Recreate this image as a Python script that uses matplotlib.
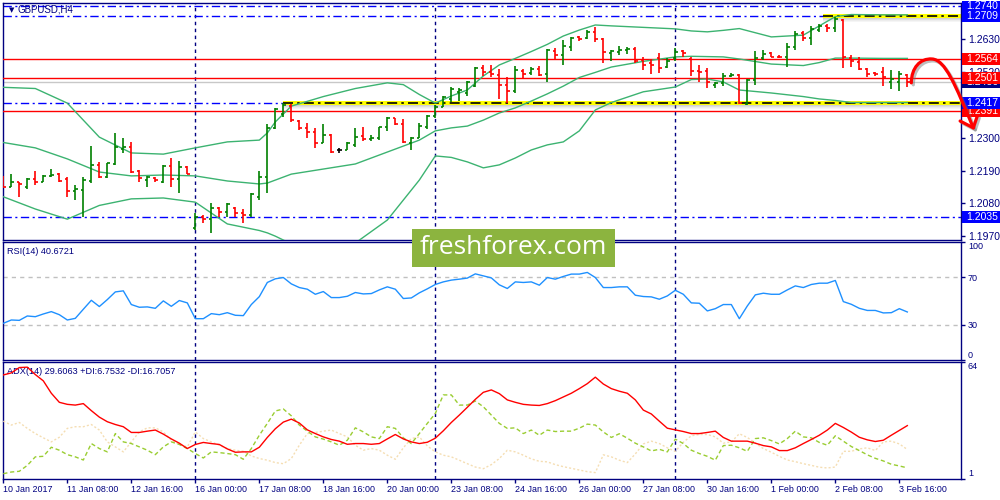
import numpy as np
import matplotlib
matplotlib.use('Agg')
import matplotlib.pyplot as plt
import matplotlib.transforms as mtransforms
from matplotlib.patches import Rectangle, PathPatch
from matplotlib.path import Path

plt.rcParams['font.family'] = ['Liberation Sans', 'DejaVu Sans']

# GBPUSD H4 bars, 10 Jan 2017 00:00 .. 3 Feb 2017 20:00
opens = [1.2170, 1.2135, 1.2152, 1.2136, 1.2161, 1.2153, 1.2172, 1.2178, 1.2161, 1.2122,
         1.2125, 1.2156, 1.2208, 1.2169, 1.2212, 1.2261, 1.2270, 1.2188, 1.2158, 1.2165,
         1.2153, 1.2205, 1.2161, 1.2203, 1.1997, 1.2035, 1.2026, 1.2063, 1.2052, 1.2063,
         1.2049, 1.2041, 1.2102, 1.2168, 1.2332, 1.2379, 1.2407, 1.2357, 1.2332, 1.2320,
         1.2281, 1.2309, 1.2259, 1.2259, 1.2275, 1.2306, 1.2295, 1.2298, 1.2335, 1.2365,
         1.2345, 1.2281, 1.2300, 1.2337, 1.2373, 1.2404, 1.2429, 1.2454, 1.2449, 1.2473,
         1.2533, 1.2521, 1.2510, 1.2477, 1.2458, 1.2525, 1.2518, 1.2529, 1.2514, 1.2592,
         1.2577, 1.2605, 1.2637, 1.2633, 1.2656, 1.2630, 1.2585, 1.2588, 1.2594, 1.2597,
         1.2561, 1.2552, 1.2567, 1.2538, 1.2566, 1.2592, 1.2563, 1.2525, 1.2525, 1.2477,
         1.2482, 1.2507, 1.2510, 1.2413, 1.2494, 1.2568, 1.2584, 1.2572, 1.2569, 1.2603,
         1.2650, 1.2633, 1.2661, 1.2674, 1.2669, 1.2696, 1.2568, 1.2555, 1.2529, 1.2518,
         1.2521, 1.2488, 1.2487, 1.2510]
highs = [1.2172, 1.2177, 1.2153, 1.2166, 1.2189, 1.2176, 1.2194, 1.2181, 1.2169, 1.2142,
         1.2169, 1.2272, 1.2220, 1.2216, 1.2317, 1.2300, 1.2287, 1.2192, 1.2172, 1.2167,
         1.2209, 1.2231, 1.2222, 1.2205, 1.2048, 1.2041, 1.2080, 1.2069, 1.2082, 1.2067,
         1.2060, 1.2115, 1.2188, 1.2346, 1.2399, 1.2415, 1.2412, 1.2359, 1.2350, 1.2332,
         1.2345, 1.2312, 1.2267, 1.2287, 1.2332, 1.2337, 1.2309, 1.2337, 1.2368, 1.2367,
         1.2362, 1.2303, 1.2348, 1.2376, 1.2410, 1.2440, 1.2469, 1.2466, 1.2491, 1.2536,
         1.2544, 1.2544, 1.2529, 1.2503, 1.2540, 1.2529, 1.2536, 1.2540, 1.2597, 1.2600,
         1.2628, 1.2637, 1.2641, 1.2661, 1.2670, 1.2633, 1.2594, 1.2608, 1.2605, 1.2603,
         1.2572, 1.2563, 1.2583, 1.2566, 1.2600, 1.2594, 1.2570, 1.2544, 1.2533, 1.2488,
         1.2518, 1.2518, 1.2514, 1.2497, 1.2591, 1.2594, 1.2589, 1.2576, 1.2618, 1.2657,
         1.2657, 1.2675, 1.2682, 1.2680, 1.2706, 1.2699, 1.2577, 1.2572, 1.2533, 1.2521,
         1.2538, 1.2526, 1.2524, 1.2513]
lows = [1.2130, 1.2134, 1.2102, 1.2128, 1.2142, 1.2151, 1.2167, 1.2151, 1.2102, 1.2091,
        1.2033, 1.2149, 1.2164, 1.2164, 1.2209, 1.2248, 1.2183, 1.2153, 1.2136, 1.2153,
        1.2147, 1.2136, 1.2116, 1.2177, 1.1991, 1.2013, 1.1982, 1.2033, 1.2035, 1.2035,
        1.2015, 1.2035, 1.2091, 1.2115, 1.2328, 1.2371, 1.2354, 1.2326, 1.2298, 1.2265,
        1.2281, 1.2250, 1.2250, 1.2259, 1.2270, 1.2289, 1.2289, 1.2292, 1.2324, 1.2343,
        1.2281, 1.2259, 1.2298, 1.2328, 1.2366, 1.2404, 1.2421, 1.2424, 1.2440, 1.2469,
        1.2507, 1.2503, 1.2429, 1.2415, 1.2451, 1.2496, 1.2510, 1.2507, 1.2488, 1.2563,
        1.2544, 1.2592, 1.2625, 1.2630, 1.2622, 1.2552, 1.2558, 1.2577, 1.2581, 1.2552,
        1.2527, 1.2514, 1.2518, 1.2533, 1.2558, 1.2572, 1.2507, 1.2488, 1.2466, 1.2466,
        1.2473, 1.2503, 1.2412, 1.2410, 1.2477, 1.2561, 1.2569, 1.2566, 1.2538, 1.2593,
        1.2623, 1.2612, 1.2653, 1.2656, 1.2656, 1.2533, 1.2538, 1.2527, 1.2505, 1.2508,
        1.2475, 1.2463, 1.2456, 1.2470]
closes = [1.2135, 1.2153, 1.2144, 1.2161, 1.2153, 1.2172, 1.2176, 1.2156, 1.2122, 1.2127,
          1.2158, 1.2209, 1.2169, 1.2214, 1.2268, 1.2270, 1.2186, 1.2164, 1.2167, 1.2158,
          1.2205, 1.2161, 1.2201, 1.2178, 1.2034, 1.2026, 1.2063, 1.2052, 1.2078, 1.2049,
          1.2041, 1.2111, 1.2168, 1.2333, 1.2395, 1.2410, 1.2359, 1.2332, 1.2320, 1.2281,
          1.2309, 1.2253, 1.2259, 1.2283, 1.2304, 1.2295, 1.2298, 1.2335, 1.2365, 1.2345,
          1.2287, 1.2298, 1.2339, 1.2373, 1.2402, 1.2436, 1.2462, 1.2460, 1.2488, 1.2533,
          1.2521, 1.2514, 1.2477, 1.2458, 1.2527, 1.2514, 1.2529, 1.2510, 1.2594, 1.2577,
          1.2608, 1.2633, 1.2630, 1.2656, 1.2630, 1.2588, 1.2592, 1.2594, 1.2599, 1.2558,
          1.2544, 1.2544, 1.2534, 1.2558, 1.2588, 1.2583, 1.2525, 1.2521, 1.2488, 1.2482,
          1.2507, 1.2511, 1.2415, 1.2494, 1.2568, 1.2581, 1.2572, 1.2569, 1.2603, 1.2647,
          1.2633, 1.2666, 1.2675, 1.2669, 1.2698, 1.2571, 1.2557, 1.2530, 1.2513, 1.2513,
          1.2502, 1.2496, 1.2512, 1.2486]

# Bollinger bands read at some bars
bb_idx = [0, 4, 8, 12, 16, 20, 24, 28, 32, 33, 34, 36, 40, 44, 48, 50, 52, 54, 56, 58,
          60, 62, 64, 66, 68, 70, 72, 74, 76, 80, 84, 86, 88, 90, 92, 96, 100, 102, 104, 106,
          110, 113]
bb_upper = [1.2469, 1.2465, 1.2416, 1.2302, 1.2249, 1.2245, 1.2266, 1.2286, 1.2292, 1.2316,
            1.2353, 1.2406, 1.2438, 1.2465, 1.2484, 1.2478, 1.2445, 1.2416, 1.2440, 1.2460,
            1.2507, 1.2544, 1.2566, 1.2589, 1.2613, 1.2641, 1.2661, 1.2678, 1.2675, 1.2670,
            1.2665, 1.2658, 1.2655, 1.2660, 1.2666, 1.2638, 1.2644, 1.2675, 1.2706, 1.2713,
            1.2712, 1.2712]
bb_mid = [1.2284, 1.2266, 1.2229, 1.2185, 1.2172, 1.2175, 1.2172, 1.2155, 1.2145, 1.2148,
          1.2158, 1.2178, 1.2195, 1.2212, 1.2252, 1.2272, 1.2292, 1.2323, 1.2333, 1.2339,
          1.2359, 1.2383, 1.2400, 1.2423, 1.2447, 1.2473, 1.2502, 1.2519, 1.2537, 1.2556,
          1.2571, 1.2573, 1.2572, 1.2571, 1.2564, 1.2547, 1.2542, 1.2552, 1.2567, 1.2567,
          1.2566, 1.2566]
bb_lower = [1.2102, 1.2061, 1.2027, 1.2073, 1.2095, 1.2098, 1.2084, 1.2011, 1.1989, 1.1981,
            1.1970, 1.1944, 1.1927, 1.1947, 1.2024, 1.2091, 1.2158, 1.2239, 1.2234, 1.2219,
            1.2199, 1.2209, 1.2232, 1.2259, 1.2276, 1.2286, 1.2323, 1.2393, 1.2418, 1.2454,
            1.2470, 1.2495, 1.2497, 1.2487, 1.2460, 1.2450, 1.2438, 1.2430, 1.2425, 1.2418,
            1.2418, 1.2418]

rsi = [31.1, 33.9, 33.6, 37.3, 36.7, 39.0, 41.0, 38.4, 33.9, 35.3,
       43.0, 50.6, 45.3, 51.2, 57.7, 58.6, 47.0, 44.7, 45.0, 43.8,
       50.1, 45.5, 50.4, 48.4, 35.0, 35.0, 39.3, 38.4, 40.1, 37.9,
       37.6, 47.0, 53.7, 65.7, 68.8, 69.9, 64.5, 61.4, 60.0, 55.7,
       58.0, 52.9, 52.9, 54.0, 57.2, 56.0, 56.3, 59.4, 62.0, 60.0,
       52.1, 52.6, 56.9, 60.3, 64.0, 66.2, 67.7, 68.5, 69.4, 73.0,
       71.3, 69.6, 63.7, 60.6, 66.2, 65.7, 66.2, 63.4, 69.9, 68.5,
       70.8, 72.8, 72.8, 74.2, 69.9, 61.4, 61.4, 62.0, 62.0, 54.9,
       53.8, 53.5, 51.5, 54.3, 59.1, 55.7, 48.4, 48.1, 41.6, 43.5,
       47.0, 47.0, 35.0, 45.8, 55.2, 56.6, 55.7, 55.7, 59.4, 62.8,
       61.4, 64.0, 65.1, 65.1, 67.4, 49.5, 47.2, 43.8, 42.0, 42.0,
       39.9, 40.1, 43.5, 40.7]

adx = [57.0, 58.1, 61.0, 61.2, 57.2, 53.8, 47.1, 42.2, 41.1, 40.7,
       41.5, 37.7, 34.2, 31.7, 30.2, 29.0, 25.9, 25.9, 26.6, 27.2,
       25.0, 22.4, 20.1, 17.2, 19.4, 20.5, 19.9, 19.4, 17.0, 15.2,
       15.4, 15.4, 17.9, 23.2, 27.9, 31.5, 33.1, 31.0, 27.3, 25.3,
       23.5, 22.1, 21.2, 19.5, 19.9, 19.9, 19.5, 19.9, 22.4, 24.8,
       22.4, 20.8, 19.9, 20.6, 22.8, 26.8, 31.3, 35.3, 39.5, 43.8,
       47.6, 48.9, 46.9, 43.5, 42.2, 41.1, 40.7, 40.5, 41.5, 43.1,
       45.1, 47.1, 49.6, 52.3, 55.8, 52.1, 49.6, 48.2, 47.1, 43.5,
       38.0, 35.9, 32.0, 28.2, 27.3, 26.4, 25.3, 25.3, 25.9, 26.6,
       23.2, 21.2, 21.2, 21.2, 20.1, 18.8, 18.1, 16.1, 16.1, 17.6,
       19.9, 22.1, 24.4, 27.2, 30.8, 28.6, 26.1, 23.3, 21.9, 21.0,
       21.7, 24.4, 27.0, 29.6]
plus_di = [3.6, 4.5, 4.9, 8.1, 12.7, 13.0, 17.9, 16.3, 13.9, 12.7,
           11.0, 19.9, 17.2, 15.4, 25.3, 20.8, 19.9, 18.1, 16.3, 13.9,
           18.1, 20.8, 19.4, 17.2, 14.5, 12.1, 15.4, 15.0, 14.5, 13.9,
           11.4, 17.2, 24.4, 30.8, 37.5, 38.6, 34.9, 29.9, 26.6, 23.5,
           22.3, 20.8, 19.0, 21.7, 28.4, 26.2, 23.5, 22.6, 29.0, 28.1,
           23.0, 19.9, 25.3, 30.8, 36.2, 46.2, 46.2, 40.7, 40.7, 42.9,
           39.8, 35.3, 30.8, 28.1, 28.4, 25.3, 27.2, 24.4, 27.2, 26.4,
           26.6, 26.6, 28.2, 30.4, 29.9, 26.2, 23.2, 25.2, 22.8, 20.1,
           18.1, 15.9, 16.8, 15.4, 22.3, 19.9, 16.3, 14.5, 13.0, 10.9,
           18.8, 19.0, 17.6, 15.7, 22.6, 23.0, 21.5, 19.7, 22.6, 26.6,
           23.5, 23.0, 20.5, 19.0, 24.1, 21.2, 18.3, 16.1, 13.8, 11.9,
           10.5, 8.7, 7.8, 6.75]
minus_di = [32.0, 29.9, 31.3, 28.1, 25.3, 23.0, 20.8, 23.3, 28.1, 29.0,
            29.0, 30.2, 27.2, 20.8, 18.1, 15.4, 20.8, 26.2, 28.4, 28.4,
            26.2, 21.7, 19.4, 18.1, 26.2, 22.6, 20.8, 19.0, 17.2, 16.3,
            15.7, 13.2, 11.8, 10.9, 9.6, 9.0, 11.8, 19.0, 25.3, 25.9,
            26.6, 27.2, 25.3, 23.5, 19.0, 16.3, 17.2, 16.3, 13.6, 11.4,
            17.6, 22.6, 23.5, 18.6, 15.4, 13.6, 12.7, 10.9, 9.0, 7.2,
            6.3, 8.5, 11.8, 16.3, 15.4, 13.6, 11.6, 10.3, 10.0, 8.5,
            7.4, 6.5, 5.6, 4.7, 4.2, 13.8, 12.7, 10.9, 9.6, 14.3,
            19.7, 21.2, 19.9, 17.6, 15.7, 20.6, 24.1, 24.8, 24.8, 23.5,
            20.1, 20.8, 25.2, 23.2, 20.1, 17.2, 15.2, 13.0, 11.0, 10.1,
            9.0, 8.1, 7.1, 6.7, 7.2, 15.7, 15.7, 17.0, 17.6, 16.1,
            20.8, 21.2, 19.7, 16.7]

time_labels = ['10 Jan 2017', '11 Jan 08:00', '12 Jan 16:00', '16 Jan 00:00', '17 Jan 08:00',
               '18 Jan 16:00', '20 Jan 00:00', '23 Jan 08:00', '24 Jan 16:00', '26 Jan 00:00',
               '27 Jan 08:00', '30 Jan 16:00', '1 Feb 00:00', '2 Feb 08:00', '3 Feb 16:00']
week_starts = [24, 54, 84]

blue_levels = [1.2740, 1.2709, 1.2417, 1.2035]
red_levels = [1.2564, 1.2501, 1.2391]
bid = 1.2486
zones = [(35, 1.2417), (102.5, 1.2709)]  # (start bar, level)
scale_ticks = [1.2630, 1.2520, 1.2410, 1.2300, 1.2190, 1.2080, 1.1970]

NAVY = '#000080'
BLUE = '#0000FF'
RED = '#FF0000'

fig = plt.figure(figsize=(10, 5), dpi=100)


def rect(x0, y0, x1, y1):
    return [x0 / 1000, 1 - y1 / 500, (x1 - x0) / 1000, (y1 - y0) / 500]


ax = fig.add_axes(rect(3, 3, 961, 240))
ax_rsi = fig.add_axes(rect(3, 242, 961, 360), sharex=ax)
ax_adx = fig.add_axes(rect(3, 362, 961, 478.5), sharex=ax)

x = np.arange(len(closes))
xmax = 119.71

for a in (ax, ax_rsi, ax_adx):
    for sp in a.spines.values():
        sp.set_color(NAVY)
        sp.set_linewidth(1)
    a.yaxis.tick_right()
    a.tick_params(axis='y', colors=NAVY, labelcolor=NAVY, length=3, width=1, pad=2)
    for s in week_starts:
        a.axvline(s, color=NAVY, lw=1, ls=(0, (2.5, 2.5)), zorder=2)

ax.set_xlim(-0.04, xmax)

# ---- main price panel
ax.set_ylim(1.19571, 1.27517)
cols = ['#008000' if c > o else RED if c < o else 'black' for o, c in zip(opens, closes)]
ax.vlines(x, lows, highs, colors=cols, lw=1.2, zorder=5)
ax.hlines(opens, x - 0.35, x, colors=cols, lw=1.2, zorder=5)
ax.hlines(closes, x, x + 0.35, colors=cols, lw=1.2, zorder=5)

for band in (bb_upper, bb_mid, bb_lower):
    ax.plot(bb_idx, band, color='#3CB371', lw=1, zorder=4)

ax.axhline(bid, color='#C8C8C8', lw=1, zorder=1)
for lv in blue_levels:
    ax.axhline(lv, color=BLUE, lw=1, ls=(0, (6, 2.5, 1.5, 2.5)), zorder=2)
for lv in red_levels:
    ax.axhline(lv, color=RED, lw=1, zorder=3)
for start, lv in zones:
    for k, al in enumerate([0.35, 0.25, 0.15, 0.08]):
        ax.add_patch(Rectangle((start, lv - 0.0008 - 0.00034 * (k + 1)), xmax - start, 0.00034,
                               fc='#808080', ec='none', alpha=al, zorder=2.1))
    ax.add_patch(Rectangle((start, lv - 0.0006), xmax - start, 0.0013, fc='#FFFF00',
                           ec='none', zorder=2.2))
    ax.hlines(lv, start, xmax, color='black', lw=1.2, ls=(0, (6, 2.5, 1.5, 2.5)), zorder=2.3)

ax.set_yticks(scale_ticks)
ax.set_yticklabels([f'{t:.4f}' for t in scale_ticks])
ax.tick_params(axis='y', labelsize=7.5)
ax.tick_params(axis='x', bottom=False, labelbottom=False)

trans = mtransforms.blended_transform_factory(ax.transAxes, ax.transData)
price_boxes = [(bid, NAVY), (1.2564, RED), (1.2501, RED), (1.2391, RED),
               (1.2740, BLUE), (1.2709, BLUE), (1.2417, BLUE), (1.2035, BLUE)]
for k, (v, c) in enumerate(price_boxes):
    z = 6 + k * 0.1
    ax.add_patch(Rectangle((1.0011, v - 0.0020), 0.045, 0.0040, transform=trans, fc=c,
                           ec='none', clip_on=False, zorder=z))
    ax.text(1.0057, v, f'{v:.4f}', transform=trans, color='white', fontsize=7.5,
            va='center', ha='left', clip_on=False, zorder=z + 0.05)

fig.text(0.009, 1 - 10 / 500, '\u25BC', family='DejaVu Sans', fontsize=5, color=NAVY,
         va='center', ha='left')
fig.text(0.018, 1 - 10 / 500, 'GBPUSD,H4', fontsize=7, color=NAVY, va='center', ha='left')

# forecast arrow drawn on the chart
last = len(closes) - 1
verts = [(last + 0.5, closes[-1] - 0.0002), (last + 0.5, 1.2534), (last + 1.6, 1.2567),
         (last + 3.1, red_levels[0]), (last + 4.75, 1.2561), (last + 6.0, 1.2477),
         (last + 8.25, 1.2333)]
codes = [Path.MOVETO, Path.CURVE4, Path.CURVE4, Path.CURVE4, Path.CURVE4, Path.CURVE4, Path.CURVE4]
head = [(last + 6.6, 1.2356), (last + 8.25, 1.2333), (last + 8.75, 1.2373)]
head_codes = [Path.MOVETO, Path.LINETO, Path.LINETO]
shadow = mtransforms.offset_copy(ax.transData, fig=fig, x=2, y=-2, units='dots')
for tr, col, al in ((shadow, '#707070', 0.45), (ax.transData, RED, 1.0)):
    ax.add_patch(PathPatch(Path(verts, codes), fill=False, ec=col, lw=2.3, alpha=al,
                           transform=tr, clip_on=False, zorder=10, capstyle='round'))
    ax.add_patch(PathPatch(Path(head, head_codes), fill=False, ec=col, lw=2.3, alpha=al,
                           transform=tr, clip_on=False, zorder=10, capstyle='round',
                           joinstyle='round'))

# ---- RSI panel
ax_rsi.set_ylim(0, 100)
ax_rsi.plot(x, rsi, color='#1E90FF', lw=1, zorder=4)
for lv in (70, 30):
    ax_rsi.axhline(lv, color='#C0C0C0', lw=1, ls=(0, (3, 3)), zorder=1)
ax_rsi.set_yticks([0, 30, 70, 100])
ax_rsi.set_yticklabels(['0', '30', '70', '100'])
ax_rsi.tick_params(axis='y', labelsize=6.5)
ax_rsi.get_yticklabels()[0].set_va('bottom')
ax_rsi.get_yticklabels()[-1].set_va('top')
ax_rsi.tick_params(axis='x', bottom=False, labelbottom=False)
ax_rsi.text(0.0045, 0.918, f'RSI(14) {40.6721:.4f}', transform=ax_rsi.transAxes,
            color=NAVY, fontsize=6.6, va='center', ha='left')

# ---- ADX panel
ax_adx.set_ylim(1, 64)
ax_adx.plot(x, minus_di, color='#F5DEB3', lw=1, ls=(0, (1.5, 1.5)), zorder=3)
ax_adx.plot(x, plus_di, color='#9ACD32', lw=1, ls=(0, (3, 2)), zorder=3)
ax_adx.plot(x, adx, color=RED, lw=1, zorder=4)
ax_adx.set_yticks([1, 64])
ax_adx.set_yticklabels(['1', '64'])
ax_adx.tick_params(axis='y', labelsize=6.5)
ax_adx.get_yticklabels()[0].set_va('bottom')
ax_adx.get_yticklabels()[-1].set_va('top')
ax_adx.text(0.0045, 0.918, 'ADX(14) 29.6063 +DI:6.7532 -DI:16.7057',
            transform=ax_adx.transAxes, color=NAVY, fontsize=6.6, va='center', ha='left')
ax_adx.set_xticks(list(range(0, 8 * len(time_labels), 8)))
ax_adx.set_xticklabels(time_labels, ha='left')
ax_adx.tick_params(axis='x', colors=NAVY, labelcolor=NAVY, length=3, width=1, pad=2,
                   labelsize=6.4)
ax.set_xlim(-0.04, xmax)

# watermark
fig.add_artist(Rectangle((0.412, 1 - 266.7 / 500), 0.203, 37.4 / 500, transform=fig.transFigure,
                         fc='#8CB43F', ec='none', zorder=20))
fig.text(0.5135, 1 - 248 / 500, 'freshforex.com', family=['Open Sans', 'DejaVu Sans'],
         fontsize=19, color='white', ha='center', va='center', zorder=21)

fig.savefig('out.png', dpi=100, facecolor='white')
